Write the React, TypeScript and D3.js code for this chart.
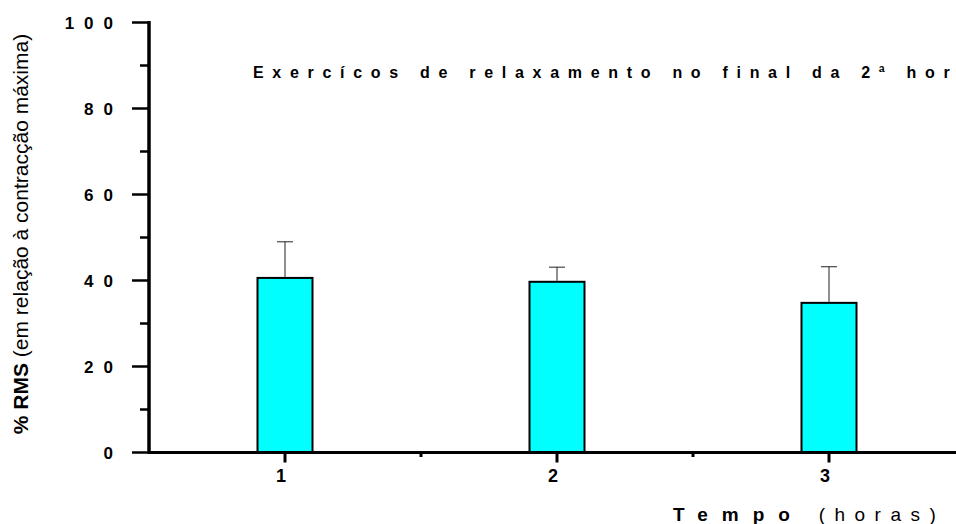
import { useEffect, useRef } from 'react'
import * as d3 from 'd3'

const categories = [1, 2, 3]
const means = [40.6, 39.7, 34.8]
const sems = [8.4, 3.4, 8.4]
const yMajorTicks = [0, 20, 40, 60, 80, 100]
const yMinorTicks = [10, 30, 50, 70, 90]
const xMinorTicks = [1.5, 2.5]

const title = 'Exercícos de relaxamento no final da 2ª hora'
const yTitleBold = '% RMS'
const yTitleRest = ' (em relação à contracção máxima)'
const xTitleBold = 'Tempo'
const xTitleRest = ' (horas)'

const FONT = '"Liberation Sans", Arial, Helvetica, sans-serif'

export default function App() {
  const ref = useRef<SVGSVGElement>(null)

  useEffect(() => {
    if (!ref.current) return
    const svg = d3.select(ref.current)
    svg.selectAll('*').remove()

    const width = 956
    const height = 524
    svg.attr('width', width).attr('height', height).attr('viewBox', `0 0 ${width} ${height}`)

    const x = d3.scaleLinear().domain([0.5, 3.5]).range([149, 965])
    const y = d3.scaleLinear().domain([0, 100]).range([452.5, 22.5])
    const barW = 55
    const capW = 16

    const g = svg.append('g').attr('font-family', FONT)

    // Bars
    g.selectAll('rect.bar')
      .data(categories)
      .join('rect')
      .attr('class', 'bar')
      .attr('x', d => x(d) - barW / 2)
      .attr('y', (_, i) => y(means[i]))
      .attr('width', barW)
      .attr('height', (_, i) => y(0) - y(means[i]))
      .attr('fill', '#00ffff')
      .attr('stroke', '#000')
      .attr('stroke-width', 2)

    // Error bars (upper only)
    categories.forEach((c, i) => {
      const top = y(means[i] + sems[i])
      g.append('line')
        .attr('x1', x(c)).attr('x2', x(c))
        .attr('y1', y(means[i]) - 1).attr('y2', top)
        .attr('stroke', '#222').attr('stroke-width', 1)
      g.append('line')
        .attr('x1', x(c) - capW / 2).attr('x2', x(c) + capW / 2)
        .attr('y1', top).attr('y2', top)
        .attr('stroke', '#222').attr('stroke-width', 1)
    })

    // Y axis
    g.append('line')
      .attr('x1', 149).attr('x2', 149)
      .attr('y1', y(100) - 1.5).attr('y2', y(0) + 1.5)
      .attr('stroke', '#000').attr('stroke-width', 3.5)

    yMajorTicks.forEach(t => {
      g.append('line')
        .attr('x1', 132).attr('x2', 149)
        .attr('y1', y(t)).attr('y2', y(t))
        .attr('stroke', '#000').attr('stroke-width', 2.5)
      g.append('text')
        .attr('x', 113 + 10).attr('y', y(t) + 6)
        .attr('text-anchor', 'end')
        .attr('font-size', '17px').attr('font-weight', 'bold')
        .attr('letter-spacing', '10px')
        .text(String(t))
    })
    yMinorTicks.forEach(t => {
      g.append('line')
        .attr('x1', 140).attr('x2', 149)
        .attr('y1', y(t)).attr('y2', y(t))
        .attr('stroke', '#000').attr('stroke-width', 2.5)
    })

    // X axis
    g.append('line')
      .attr('x1', 149).attr('x2', width)
      .attr('y1', y(0)).attr('y2', y(0))
      .attr('stroke', '#000').attr('stroke-width', 3)

    categories.forEach(c => {
      g.append('line')
        .attr('x1', x(c)).attr('x2', x(c))
        .attr('y1', y(0)).attr('y2', y(0) + 10)
        .attr('stroke', '#000').attr('stroke-width', 3)
      g.append('text')
        .attr('x', x(c) - 4).attr('y', 482)
        .attr('text-anchor', 'middle')
        .attr('font-size', '18px').attr('font-weight', 'bold')
        .text(String(c))
    })
    xMinorTicks.forEach(c => {
      g.append('line')
        .attr('x1', x(c)).attr('x2', x(c))
        .attr('y1', y(0)).attr('y2', y(0) + 4.5)
        .attr('stroke', '#000').attr('stroke-width', 3)
    })

    // Title
    g.append('text')
      .attr('x', 253).attr('y', 78)
      .attr('font-size', '16px').attr('font-weight', 'bold')
      .attr('letter-spacing', '8.7px')
      .text(title)

    // Y axis title
    const yt = g.append('text')
      .attr('transform', 'translate(28,234) rotate(-90)')
      .attr('text-anchor', 'middle')
      .attr('font-size', '21px')
    yt.append('tspan').attr('font-weight', 'bold').text(yTitleBold)
    yt.append('tspan').text(yTitleRest)

    // X axis title
    const xt = g.append('text')
      .attr('x', 673).attr('y', 521)
      .attr('font-size', '19px')
    xt.append('tspan').attr('font-weight', 'bold').attr('letter-spacing', '14px').text(xTitleBold)
    xt.append('tspan').attr('letter-spacing', '9.5px').text(xTitleRest)
  }, [])

  return (
    <div style={{ position: 'absolute', left: 0, top: 0, width: 956, height: 524, background: '#fff' }}>
      <svg ref={ref} style={{ display: 'block' }} />
    </div>
  )
}
